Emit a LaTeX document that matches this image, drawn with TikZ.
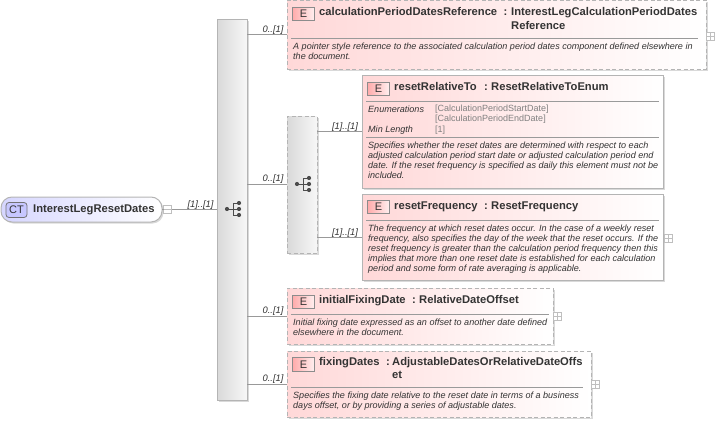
\documentclass[tikz,border=0pt]{standalone}
\usepackage{fontspec}
\setmainfont{Liberation Sans}
\usetikzlibrary{shadows}
\definecolor{ink}{HTML}{333333}
\definecolor{edge}{HTML}{B4B4B4}
\definecolor{rule}{HTML}{9A9A9A}
\definecolor{pinkl}{HTML}{FFD8D8}
\tikzset{
  x=1pt,y=-1pt,
  softshadow/.style={drop shadow={shadow xshift=1.5pt,shadow yshift=-1.5pt,fill=black,opacity=.15}},
  elbase/.style={rectangle,anchor=north west,inner sep=0pt,outer sep=0pt,left color=pinkl,right color=white,line width=1pt,softshadow},
  elsolid/.style={elbase,draw=edge},
  eldash/.style={elbase,draw=edge,dashed,dash pattern=on 4pt off 2.5pt},
  seqbase/.style={rectangle,anchor=north west,inner sep=0pt,outer sep=0pt,minimum width=30pt,left color=black!15,right color=black!3,line width=1pt,draw=edge,softshadow},
  badge/.style={rectangle,anchor=north west,inner sep=0pt,outer sep=0pt,minimum width=22pt,minimum height=13.5pt,draw=black!45,line width=.8pt,left color=red!33!white,right color=red!6!white,text=ink,font=\fontsize{11}{11}\selectfont},
  title/.style={anchor=base west,inner sep=0pt,text=ink,font=\bfseries\fontsize{11.2}{13}\selectfont},
  desc/.style={anchor=north west,inner sep=0pt,text=ink,font=\itshape\fontsize{9.05}{10}\selectfont,align=left},
  enumv/.style={anchor=north west,inner sep=0pt,text=black!50,font=\fontsize{9}{10}\selectfont,align=left},
  card/.style={anchor=base,inner sep=0pt,text=ink,font=\itshape\fontsize{9.35}{10}\selectfont},
  conn/.style={draw=black!40,line width=.8pt},
  sepline/.style={draw=rule,line width=.8pt},
  toggle/.style={rectangle,anchor=north west,inner sep=0pt,outer sep=0pt,minimum width=8pt,minimum height=8pt,draw=black!25,line width=.6pt,fill=white},
  dot/.style={circle,fill=black!70,inner sep=0pt,minimum size=4.2pt},
}
\newcommand{\seqicon}[3]{%
  \node[dot] (#1l) at (#2,#3) {};
  \node[dot] (#1a) at (#2+12,#3-6) {};
  \node[dot] (#1b) at (#2+12,#3) {};
  \node[dot] (#1c) at (#2+12,#3+6) {};
  \draw[draw=black!70,line width=.8pt] (#1l) -- (#1b) (#1a) -- (#2+6,#3-6) -- (#2+6,#3+6) -- (#1c);
}
\newcommand{\plusbox}[3]{%
  \node[toggle] (#1) at (#2,#3) {};
  \draw[draw=black!25,line width=.6pt] (#1.west) -- (#1.east) (#1.north) -- (#1.south);
}
\begin{document}
\begin{tikzpicture}
\useasboundingbox (0,0) rectangle (715,423);
% root
\node[rectangle,rounded corners=11pt,anchor=north west,inner sep=0pt,outer sep=0pt,minimum width=161pt,minimum height=25pt,left color=blue!16!white,right color=white,draw=edge,line width=1pt,softshadow] (root) at (1,197) {};
\node[rectangle,rounded corners=3pt,anchor=north west,inner sep=0pt,outer sep=0pt,minimum width=21pt,minimum height=15pt,fill=blue!22!white,draw=black!55,line width=.8pt,text=ink,font=\fontsize{11}{11}\selectfont] (rootbadge) at (6,202.5) {CT};
\node[title] (rootname) at (33,212.5) {InterestLegResetDates};
\node[toggle] (rootminus) at (163.5,205.5) {};
\draw[draw=black!25,line width=.6pt] (rootminus.west) -- (rootminus.east);
% sequences
\node[seqbase,minimum height=380.5pt] (mainseq) at (217,19.5) {};
\node[seqbase,dashed,dash pattern=on 4pt off 2.5pt,minimum height=137pt] (innerseq) at (287,116) {};
\seqicon{mi}{227}{209}
\seqicon{ii}{297}{184}
% boxes
\node[eldash,minimum width=419pt,minimum height=69pt] (b1) at (287,0) {};
\node[elsolid,minimum width=301pt,minimum height=113pt] (b2) at (362,75) {};
\node[elsolid,minimum width=301pt,minimum height=86pt] (b3) at (362,194) {};
\node[eldash,minimum width=266pt,minimum height=56pt] (b4) at (287,288) {};
\node[eldash,minimum width=304pt,minimum height=66pt] (b5) at (287,351) {};
% separators
\draw[sepline] (291,38.5) -- (698,38.5);
\draw[sepline] (366,101.5) -- (659,101.5);
\draw[sepline] (366,137.5) -- (659,137.5);
\draw[sepline] (366,220.5) -- (659,220.5);
\draw[sepline] (291,314.5) -- (549,314.5);
\draw[sepline] (291,387.5) -- (583,387.5);
% badges
\node[badge] (e1) at (292.5,7) {E};
\node[badge] (e2) at (367.5,82) {E};
\node[badge] (e3) at (367.5,200) {E};
\node[badge] (e4) at (292.5,295) {E};
\node[badge] (e5) at (292.5,357.5) {E};
% titles
\node[title] (t1a) at (319,16) {calculationPeriodDatesReference};
\node[title] (t1b) at (503.5,16) {:};
\node[title] (t1c) at (511,16) {InterestLegCalculationPeriodDates};
\node[title] (t1d) at (511,29) {Reference};
\node[title] (t2a) at (394,90) {resetRelativeTo};
\node[title] (t2b) at (484,90) {:};
\node[title] (t2c) at (491,90) {ResetRelativeToEnum};
\node[title] (t3a) at (394,209) {resetFrequency};
\node[title] (t3b) at (484,209) {:};
\node[title] (t3c) at (491,209) {ResetFrequency};
\node[title] (t4a) at (319,303) {initialFixingDate};
\node[title] (t4b) at (412,303) {:};
\node[title] (t4c) at (419,303) {RelativeDateOffset};
\node[title] (t5a) at (319,365.5) {fixingDates};
\node[title] (t5b) at (386,365.5) {:};
\node[title] (t5c) at (392,365.5) {AdjustableDatesOrRelativeDateOffs};
\node[title] (t5d) at (392,378.5) {et};
% descriptions
\node[desc] (d1) at (293,42.5) {A pointer style reference to the associated calculation period dates component defined elsewhere in\\the document.};
\node[desc] (l2a) at (368,105.5) {Enumerations};
\node[enumv] (v2a) at (435,105) {{[CalculationPeriodStartDate]}\\{}{[CalculationPeriodEndDate]}};
\node[desc] (l2b) at (368,126) {Min Length};
\node[enumv] (v2b) at (435,125.5) {{[1]}};
\node[desc] (d2) at (368,141.5) {Specifies whether the reset dates are determined with respect to each\\adjusted calculation period start date or adjusted calculation period end\\date. If the reset frequency is specified as daily this element must not be\\included.};
\node[desc] (d3) at (368,224.5) {The frequency at which reset dates occur. In the case of a weekly reset\\frequency, also specifies the day of the week that the reset occurs. If the\\reset frequency is greater than the calculation period frequency then this\\implies that more than one reset date is established for each calculation\\period and some form of rate averaging is applicable.};
\node[desc] (d4) at (293,318.5) {Initial fixing date expressed as an offset to another date defined\\elsewhere in the document.};
\node[desc] (d5) at (293,391.5) {Specifies the fixing date relative to the reset date in terms of a business\\days offset, or by providing a series of adjustable dates.};
% toggles
\plusbox{p1}{706.5}{32}
\plusbox{p3}{664.5}{234}
\plusbox{p4}{553.5}{312.5}
\plusbox{p5}{591.5}{380.5}
% connectors
\draw[conn] (root.east) -- (rootminus.west);
\draw[conn] (rootminus.east) -- (mainseq.west |- rootminus.east);
\draw[conn] (mainseq.east |- b1.west) -- (b1.west);
\draw[conn] (mainseq.east |- innerseq.west) -- (innerseq.west);
\draw[conn] (mainseq.east |- b4.west) -- (b4.west);
\draw[conn] (mainseq.east |- b5.west) -- (b5.west);
\draw[conn] (innerseq.east |- b2.west) -- (b2.west);
\draw[conn] (innerseq.east |- b3.west) -- (b3.west);
% cardinalities
\node[card] (c0) at (200.5,207) {[1]..[1]};
\node[card] (c1) at (273,32) {0..[1]};
\node[card] (c2) at (273,181) {0..[1]};
\node[card] (c3) at (273,313) {0..[1]};
\node[card] (c4) at (273,381) {0..[1]};
\node[card] (c5) at (345,129) {[1]..[1]};
\node[card] (c6) at (345,235) {[1]..[1]};
\end{tikzpicture}
\end{document}
